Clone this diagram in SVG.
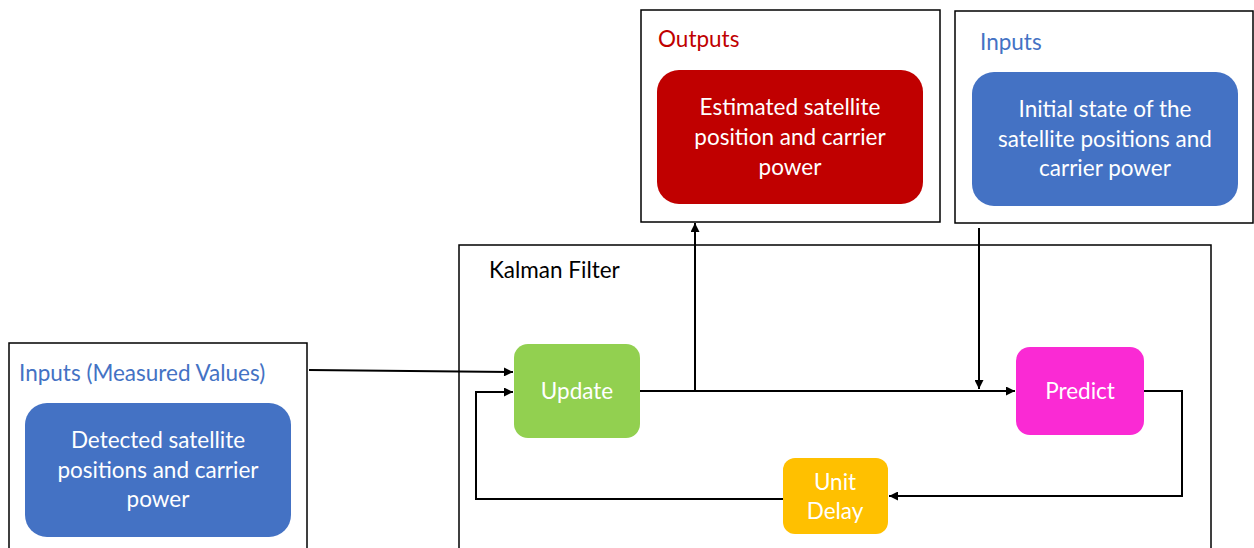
<svg xmlns="http://www.w3.org/2000/svg" width="1254" height="548" viewBox="0 0 1254 548">
  <style>
    .frame { fill: #FFFFFF; stroke: #000000; stroke-width: 1.5; }
    .title { font-family: Lato, "Open Sans", sans-serif; font-size: 22.5px; }
    .body { font-family: Lato, "Open Sans", sans-serif; font-size: 22.5px; fill: #FFFFFF; text-anchor: middle; }
    .wire { fill: none; stroke: #000000; stroke-width: 2; }
  </style>
  <defs>
    <marker id="arrow" viewBox="0 0 10 10" refX="10" refY="5" markerWidth="10" markerHeight="9" markerUnits="userSpaceOnUse" orient="auto">
      <path d="M0,0 L10,5 L0,10 Z" fill="#000000"/>
    </marker>
  </defs>
  <rect width="1254" height="548" fill="#FFFFFF"/>

  <!-- Kalman filter enclosure -->
  <g id="kalman-filter">
    <rect class="frame" x="459" y="245" width="752" height="320"/>
    <text class="title" x="489" y="278" fill="#000000">Kalman Filter</text>
  </g>

  <!-- Measured inputs -->
  <g id="measured-inputs">
    <rect class="frame" x="9" y="343" width="298" height="220"/>
    <text class="title" x="19" y="381" fill="#4472C4">Inputs (Measured Values)</text>
    <rect x="25" y="403" width="266" height="134" rx="22" fill="#4472C4"/>
    <text class="body" x="158" y="448">Detected satellite</text>
    <text class="body" x="158" y="478">positions and carrier</text>
    <text class="body" x="158" y="507">power</text>
  </g>

  <!-- Outputs -->
  <g id="outputs">
    <rect class="frame" x="641" y="10" width="299" height="212"/>
    <text class="title" x="658" y="47" fill="#C00000">Outputs</text>
    <rect x="657" y="70" width="266" height="134" rx="22" fill="#C00000"/>
    <text class="body" x="790" y="115">Estimated satellite</text>
    <text class="body" x="790" y="145">position and carrier</text>
    <text class="body" x="790" y="175">power</text>
  </g>

  <!-- Initial-state inputs -->
  <g id="initial-inputs">
    <rect class="frame" x="955" y="11" width="298" height="212"/>
    <text class="title" x="980" y="50" fill="#4472C4">Inputs</text>
    <rect x="972" y="72" width="266" height="134" rx="22" fill="#4472C4"/>
    <text class="body" x="1105" y="117">Initial state of the</text>
    <text class="body" x="1105" y="147">satellite positions and</text>
    <text class="body" x="1105" y="176">carrier power</text>
  </g>

  <g id="update">
    <rect x="514" y="344" width="126" height="94" rx="14" fill="#92D050"/>
    <text class="body" x="577" y="399">Update</text>
  </g>

  <g id="predict">
    <rect x="1016" y="347" width="128" height="88" rx="14" fill="#FA2AD4"/>
    <text class="body" x="1080" y="399">Predict</text>
  </g>

  <g id="unit-delay">
    <rect x="783" y="458" width="105" height="76" rx="12" fill="#FFC000"/>
    <text class="body" x="835" y="490">Unit</text>
    <text class="body" x="835" y="519">Delay</text>
  </g>

  <!-- Signal flow -->
  <g id="connectors">
    <path class="wire" d="M309,370 L513,372" marker-end="url(#arrow)"/>
    <path class="wire" d="M640,391 L1015,391" marker-end="url(#arrow)"/>
    <path class="wire" d="M695,391 L695,223" marker-end="url(#arrow)"/>
    <path class="wire" d="M979,228 L979,389" marker-end="url(#arrow)"/>
    <path class="wire" d="M1144,391 L1182,391 L1182,496 L889,496" marker-end="url(#arrow)"/>
    <path class="wire" d="M783,499 L476,499 L476,392 L513,392" marker-end="url(#arrow)"/>
  </g>
</svg>
